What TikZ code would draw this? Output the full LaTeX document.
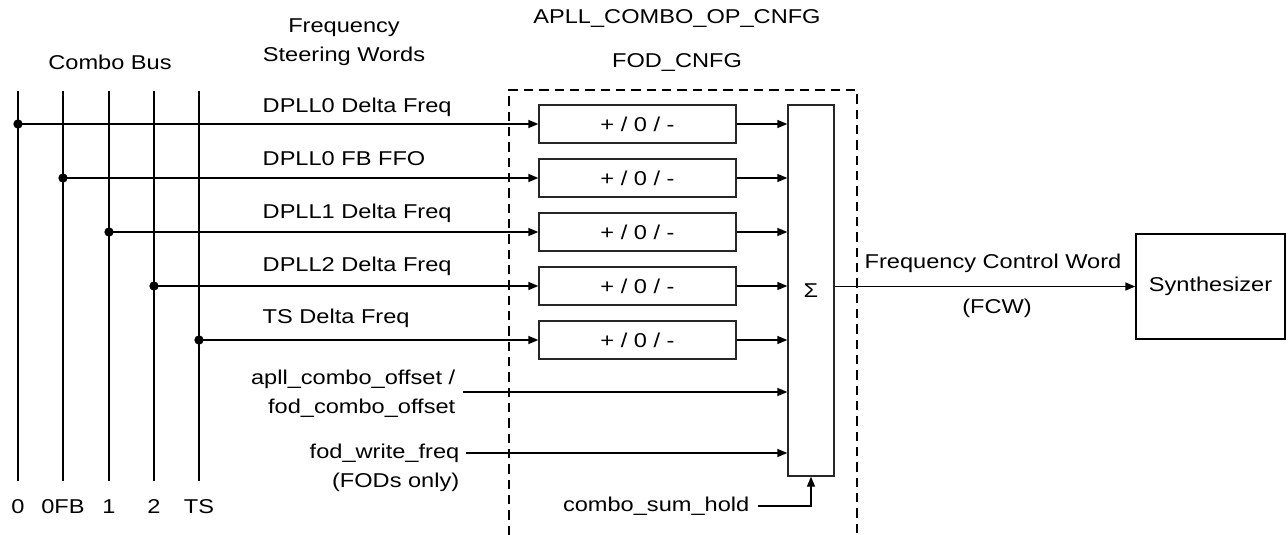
\documentclass[tikz,border=0pt]{standalone}
\usepackage{fontspec}
\setmainfont{Liberation Sans}[FakeStretch=1.18]
\usetikzlibrary{positioning,arrows.meta,calc}
\tikzset{
  >={Triangle[length=7.5pt,width=6pt]},
  every node/.append style={font=\fontsize{15}{21.75}\selectfont},
  steerbox/.style={
    rectangle,
    draw=black!85, line width=1pt,
    minimum width=147.75pt,
    minimum height=28.5pt,
    inner sep=0pt,
    text centered},
  sumbox/.style={
    rectangle,
    draw=black!85, line width=1pt,
    minimum width=34.5pt,
    minimum height=278.25pt,
    inner sep=0pt},
  synthbox/.style={
    rectangle,
    draw=black, line width=1pt,
    minimum width=111.75pt,
    minimum height=78.75pt,
    inner sep=0pt},
  line/.style={draw, line width=1pt, ->},
  bus/.style={draw, line width=1pt},
  dot/.style={circle, fill, inner sep=0pt, minimum size=7pt},
  frame/.style={draw, line width=1.8pt, dash pattern=on 7pt off 4.5pt},
}

\begin{document}
\begin{tikzpicture}
  [x=0.75pt, y=-0.75pt,
  node distance=11pt]
  \useasboundingbox (0,0) rectangle (1288,535);
  % titles
  \node (busttl) at (110,62) {Combo Bus};
  \node[align=center] (fswttl) at (344,42) {Frequency\\Steering Words};
  \node (apllttl) at (677,19) {APLL\_COMBO\_OP\_CNFG};
  \node (fodttl) at (677,63) {FOD\_CNFG};
  % combo bus
  \draw[bus] (18,91) coordinate (b0) -- (18,481);
  \draw[bus] (63,91) coordinate (b1) -- (63,481);
  \draw[bus] (109,91) coordinate (b2) -- (109,481);
  \draw[bus] (154,91) coordinate (b3) -- (154,481);
  \draw[bus] (199,91) coordinate (b4) -- (199,481);
  \node (n0) at (18,507) {0};
  \node (n1) at (63,507) {0FB};
  \node (n2) at (109,507) {1};
  \node (n3) at (154,507) {2};
  \node (n4) at (199,507) {TS};
  % dashed block
  \draw[frame] (509,535) -- (509,90) -- (857,90) -- (857,535);
  % steering selects
  \node[steerbox] (sel1) at (637.5,124) {+ / 0 / -};
  \node[steerbox, below=of sel1] (sel2) {+ / 0 / -};
  \node[steerbox, below=of sel2] (sel3) {+ / 0 / -};
  \node[steerbox, below=of sel3] (sel4) {+ / 0 / -};
  \node[steerbox, below=of sel4] (sel5) {+ / 0 / -};
  \node[sumbox] (sum) at (811,290.5) {Σ};
  \node[synthbox] (synth) at (1210.5,286.5) {Synthesizer};
  % steering words
  \node[anchor=base west] (lab1) at (258,113) {DPLL0 Delta Freq};
  \node[anchor=base west] (lab2) at (258,165.7) {DPLL0 FB FFO};
  \node[anchor=base west] (lab3) at (258,218.3) {DPLL1 Delta Freq};
  \node[anchor=base west] (lab4) at (258,271) {DPLL2 Delta Freq};
  \node[anchor=base west] (lab5) at (258,323.7) {TS Delta Freq};
  \draw[line] (sel1.west -| b0) node[dot] (t0) {} -- (sel1.west);
  \draw[line] (sel2.west -| b1) node[dot] (t1) {} -- (sel2.west);
  \draw[line] (sel3.west -| b2) node[dot] (t2) {} -- (sel3.west);
  \draw[line] (sel4.west -| b3) node[dot] (t3) {} -- (sel4.west);
  \draw[line] (sel5.west -| b4) node[dot] (t4) {} -- (sel5.west);
  \draw[line] (sel1.east) -- (sel1.east -| sum.west);
  \draw[line] (sel2.east) -- (sel2.east -| sum.west);
  \draw[line] (sel3.east) -- (sel3.east -| sum.west);
  \draw[line] (sel4.east) -- (sel4.east -| sum.west);
  \draw[line] (sel5.east) -- (sel5.east -| sum.west);
  % offset and write inputs
  \node[anchor=east, align=right] (offs) at (460,394) {apll\_combo\_offset /\\fod\_combo\_offset};
  \node[anchor=east, align=right] (wfreq) at (464,468) {fod\_write\_freq\\(FODs only)};
  \coordinate (offin) at (463,392);
  \coordinate (wfin) at (466,453);
  \draw[line] (offin) -- (offin -| sum.west);
  \draw[line] (wfin) -- (wfin -| sum.west);
  \node[anchor=east] (hold) at (754,506) {combo\_sum\_hold};
  \draw[line] ([xshift=3pt]hold.east) -| (sum.south);
  % output
  \draw[line] (sum.east |- synth.west) -- (synth.west);
  \node (fcw1) at (993,263) {Frequency Control Word};
  \node (fcw2) at (997,308) {(FCW)};
\end{tikzpicture}
\end{document}
